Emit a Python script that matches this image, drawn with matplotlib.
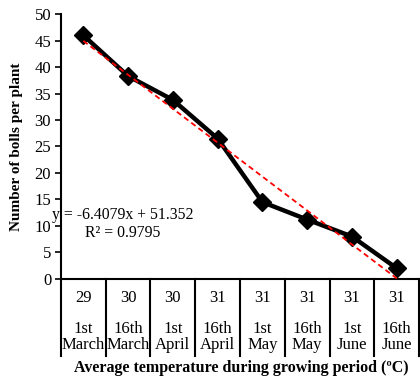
import matplotlib.pyplot as plt
import numpy as np

plt.rcParams['font.family'] = 'Liberation Serif'

temps = ['29', '30', '30', '31', '31', '31', '31', '31']
dates = ['1st\nMarch', '16th\nMarch', '1st\nApril', '16th\nApril',
         '1st\nMay', '16th\nMay', '1st\nJune', '16th\nJune']
bolls = [46.0, 38.3, 33.8, 26.5, 14.5, 11.2, 8.0, 2.0]
slope = -6.4079
intercept = 51.352
r2 = 0.9795

x = np.arange(1, len(bolls) + 1)

fig = plt.figure(figsize=(4.2, 3.81), dpi=100)
ax = fig.add_axes([0.145, 0.268, 0.853, 0.695])

ax.plot(x, bolls, color='black', linewidth=3.2, marker='D', markersize=9,
        zorder=3)

# linear trendline
xt = np.array([1, 8])
ax.plot(xt, slope * xt + intercept, color='red', linestyle='--',
        linewidth=1.3, dashes=(3, 2), zorder=4)

ax.set_xlim(0.5, 8.5)
ax.set_ylim(0, 50)
ax.set_yticks(range(0, 51, 5))
ax.tick_params(axis='y', labelsize=12, length=4, width=1.2, direction='out',
               pad=3)
ax.set_xticks([])

for s in ['top', 'right']:
    ax.spines[s].set_visible(False)
ax.spines['left'].set_linewidth(1.5)
ax.spines['bottom'].set_linewidth(1.5)

# category table below the axis
for b in np.arange(0.5, 9.0, 1.0):
    ax.plot([b, b], [0, -14.5], color='black', linewidth=1.5, clip_on=False)
for xi, t, d in zip(x, temps, dates):
    ax.text(xi, -3.6, t, ha='center', va='center', fontsize=12)
    ax.text(xi, -11.0, d, ha='center', va='center', fontsize=12,
            linespacing=0.95)

ax.set_ylabel('Number of bolls per plant', fontsize=11, fontweight='bold',
              labelpad=8)
fig.text(0.575, 0.034, 'Average temperature during growing period (ºC)',
         ha='center', va='center', fontsize=11.5, fontweight='bold')

ax.text(0.3, 12.1, f'y = {slope}x + {intercept}', fontsize=11.3,
        ha='left', va='center', clip_on=False)
ax.text(1.03, 8.7, f'R² = {r2}', fontsize=11.3, ha='left', va='center')

fig.savefig('out.png', dpi=100)
